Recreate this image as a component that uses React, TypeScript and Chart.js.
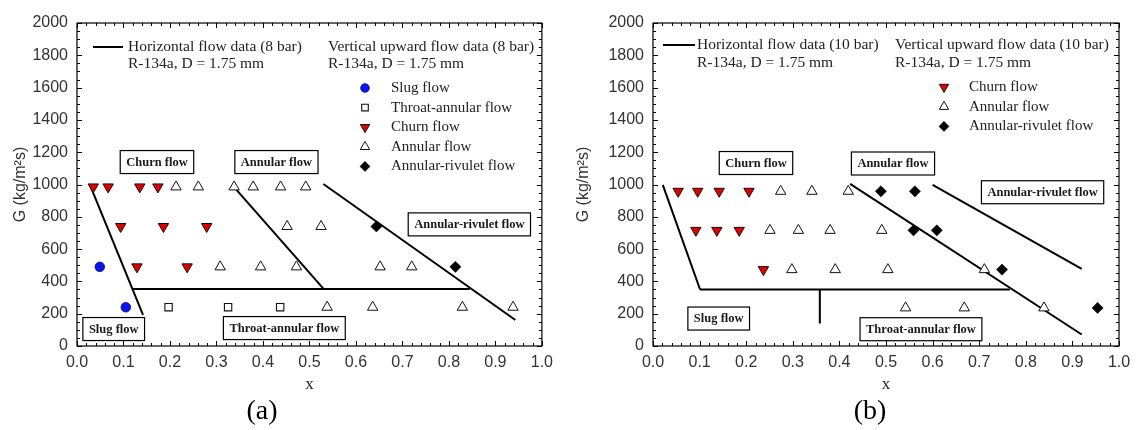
import React, { useEffect, useRef } from 'react';
import { Chart, registerables } from 'chart.js';
import { drawPoint } from 'chart.js/helpers';

Chart.register(...registerables);

// ---------------- Tick labels ----------------
const X_TICK_LABELS = ['0.0', '0.1', '0.2', '0.3', '0.4', '0.5', '0.6', '0.7', '0.8', '0.9', '1.0'];
const Y_TICK_LABELS = ['0', '200', '400', '600', '800', '1000', '1200', '1400', '1600', '1800', '2000'];

// ---------------- Panel (a): 8 bar ----------------
const A_SLUG_X = [0.049, 0.105];
const A_SLUG_G = [490, 240];
const A_THROAT_X = [0.197, 0.325, 0.437];
const A_THROAT_G = [240, 240, 240];
const A_CHURN_X = [0.035, 0.067, 0.135, 0.174, 0.094, 0.186, 0.279, 0.129, 0.237];
const A_CHURN_G = [985, 985, 985, 985, 740, 740, 740, 490, 490];
const A_ANNULAR_X = [0.213, 0.261, 0.338, 0.379, 0.438, 0.492, 0.452, 0.525, 0.308, 0.395, 0.472, 0.652, 0.72, 0.538, 0.636, 0.829, 0.938];
const A_ANNULAR_G = [985, 985, 985, 985, 985, 985, 740, 740, 490, 490, 490, 490, 490, 240, 240, 240, 240];
const A_RIVULET_X = [0.644, 0.814];
const A_RIVULET_G = [740, 490];
// horizontal flow pattern boundaries (8 bar)
const A_LINE1_X = [0.028, 0.142];
const A_LINE1_G = [996, 192];
const A_LINE2_X = [0.119, 0.845];
const A_LINE2_G = [353, 353];
const A_LINE3_X = [0.336, 0.53];
const A_LINE3_G = [990, 355];
const A_LINE4_X = [0.53, 0.943];
const A_LINE4_G = [1003, 161];
const A_REGION_TEXT = ['Churn flow', 'Annular flow', 'Annular-rivulet flow', 'Slug flow', 'Throat-annular flow'];
const A_REGION_X = [0.172, 0.429, 0.844, 0.079, 0.446];
const A_REGION_G = [1139, 1139, 753, 105, 111];

// ---------------- Panel (b): 10 bar ----------------
const B_CHURN_X = [0.054, 0.096, 0.142, 0.206, 0.092, 0.137, 0.185, 0.237];
const B_CHURN_G = [958, 958, 958, 958, 716, 716, 716, 473];
const B_ANNULAR_X = [0.274, 0.341, 0.419, 0.251, 0.312, 0.38, 0.491, 0.298, 0.391, 0.504, 0.711, 0.542, 0.668, 0.839];
const B_ANNULAR_G = [958, 958, 958, 716, 716, 716, 716, 473, 473, 473, 473, 236, 236, 236];
const B_RIVULET_X = [0.489, 0.562, 0.559, 0.609, 0.749, 0.954];
const B_RIVULET_G = [958, 958, 716, 716, 473, 236];
// horizontal flow pattern boundaries (10 bar)
const B_LINE1_X = [0.021, 0.101];
const B_LINE1_G = [998, 350];
const B_LINE2_X = [0.101, 0.766];
const B_LINE2_G = [350, 350];
const B_LINE3_X = [0.358, 0.358];
const B_LINE3_G = [350, 139];
const B_LINE4_X = [0.423, 0.92];
const B_LINE4_G = [1004, 71];
const B_LINE5_X = [0.6, 0.92];
const B_LINE5_G = [998, 477];
const B_REGION_TEXT = ['Churn flow', 'Annular flow', 'Annular-rivulet flow', 'Slug flow', 'Throat-annular flow'];
const B_REGION_X = [0.221, 0.515, 0.836, 0.141, 0.575];
const B_REGION_G = [1133, 1130, 952, 170, 104];

// ---------------- Styles ----------------
const SERIF = '"Liberation Serif", "Times New Roman", Times, serif';
const SANS = '"Liberation Sans", Arial, Helvetica, sans-serif';

type MarkerStyle = {
  pointStyle: any;
  rotation: number;
  radius: number;
  backgroundColor: string;
  borderColor: string;
  borderWidth: number;
};

const STYLE_SLUG: MarkerStyle = { pointStyle: 'circle', rotation: 0, radius: 4.8, backgroundColor: '#0a14f0', borderColor: '#00107a', borderWidth: 0.8 };
const STYLE_THROAT: MarkerStyle = { pointStyle: 'rect', rotation: 0, radius: 5.2, backgroundColor: '#ffffff', borderColor: '#111111', borderWidth: 1.1 };
const STYLE_CHURN: MarkerStyle = { pointStyle: 'triangle', rotation: 180, radius: 6, backgroundColor: '#e00000', borderColor: '#111111', borderWidth: 1 };
const STYLE_ANNULAR: MarkerStyle = { pointStyle: 'triangle', rotation: 0, radius: 6, backgroundColor: '#ffffff', borderColor: '#111111', borderWidth: 1 };
const STYLE_RIVULET: MarkerStyle = { pointStyle: 'rectRot', rotation: 0, radius: 5.6, backgroundColor: '#000000', borderColor: '#000000', borderWidth: 0.5 };

const toPts = (xs: number[], gs: number[]) => xs.map((x, i) => ({ x, y: gs[i] }));

const markerDataset = (label: string, xs: number[], gs: number[], s: MarkerStyle) => ({
  label,
  data: toPts(xs, gs),
  showLine: false,
  pointStyle: s.pointStyle,
  rotation: s.rotation,
  pointRadius: s.radius,
  pointHoverRadius: s.radius,
  pointBackgroundColor: s.backgroundColor,
  pointBorderColor: s.borderColor,
  pointBorderWidth: s.borderWidth,
  backgroundColor: s.backgroundColor,
  borderColor: s.borderColor,
});

const lineDataset = (label: string, xs: number[], gs: number[]) => ({
  label,
  data: toPts(xs, gs),
  showLine: true,
  borderColor: '#000000',
  borderWidth: 2,
  pointRadius: 0,
  pointHoverRadius: 0,
  fill: false,
});

type PanelCfg = {
  key: string;
  yAxisWidth: number;
  padRight: number;
  yTitlePad: number;
  datasets: any[];
  regionText: string[];
  regionX: number[];
  regionG: number[];
  legend: {
    lineX0: number; lineX1: number; lineY: number; textX: number;
    horizText: string; vertText: string; vertX: number; row2Y: number;
    entryMarkerX: number; entryTextX: number; entryY0: number; entryStep: number;
    entries: { label: string; style: MarkerStyle }[];
  };
};

function makePlugin(cfg: PanelCfg) {
  return {
    id: 'framePlugin' + cfg.key,
    beforeDatasetsDraw(chart: any) {
      const { ctx, chartArea } = chart;
      const { left, right, top, bottom } = chartArea;
      const xs = chart.scales.x;
      const ys = chart.scales.y;
      ctx.save();
      ctx.strokeStyle = '#000';
      ctx.lineWidth = 1.2;
      ctx.strokeRect(left, top, right - left, bottom - top);
      ctx.lineWidth = 1;
      ctx.beginPath();
      for (let i = 0; i <= 50; i++) {
        const px = Math.round(xs.getPixelForValue(i / 50)) + 0.5;
        const len = i % 5 === 0 ? 5 : 3;
        ctx.moveTo(px, bottom);
        ctx.lineTo(px, bottom - len);
        ctx.moveTo(px, top);
        ctx.lineTo(px, top + len);
      }
      for (let i = 0; i <= 40; i++) {
        const py = Math.round(ys.getPixelForValue(i * 50)) + 0.5;
        const len = i % 4 === 0 ? 5 : 3;
        ctx.moveTo(left, py);
        ctx.lineTo(left + len, py);
        ctx.moveTo(right, py);
        ctx.lineTo(right - len, py);
      }
      ctx.stroke();
      ctx.restore();
    },
    afterDatasetsDraw(chart: any) {
      const { ctx, chartArea } = chart;
      const { left, top } = chartArea;
      const xs = chart.scales.x;
      const ys = chart.scales.y;
      ctx.save();
      // region boxes
      ctx.font = 'bold 12.5px ' + SERIF;
      ctx.textAlign = 'center';
      ctx.textBaseline = 'middle';
      cfg.regionText.forEach((t, i) => {
        const cx = xs.getPixelForValue(cfg.regionX[i]);
        const cy = ys.getPixelForValue(cfg.regionG[i]);
        const w = ctx.measureText(t).width + 12;
        const h = 23;
        ctx.fillStyle = '#fff';
        ctx.fillRect(cx - w / 2, cy - h / 2, w, h);
        ctx.strokeStyle = '#000';
        ctx.lineWidth = 1.2;
        ctx.strokeRect(cx - w / 2, cy - h / 2, w, h);
        ctx.fillStyle = '#1a1a1a';
        ctx.fillText(t, cx, cy + 0.5);
      });
      // legend texts
      const L = cfg.legend;
      ctx.strokeStyle = '#000';
      ctx.lineWidth = 2;
      ctx.beginPath();
      ctx.moveTo(left + L.lineX0, top + L.lineY);
      ctx.lineTo(left + L.lineX1, top + L.lineY);
      ctx.stroke();
      ctx.fillStyle = '#222';
      ctx.textAlign = 'left';
      ctx.textBaseline = 'middle';
      ctx.font = '15.5px ' + SERIF;
      ctx.fillText(L.horizText, left + L.textX, top + L.lineY);
      ctx.fillText('R-134a, D = 1.75 mm', left + L.textX, top + L.row2Y);
      ctx.fillText(L.vertText, left + L.vertX, top + L.lineY);
      ctx.fillText('R-134a, D = 1.75 mm', left + L.vertX, top + L.row2Y);
      ctx.font = '15px ' + SERIF;
      L.entries.forEach((e, i) => {
        const yy = top + L.entryY0 + i * L.entryStep;
        const s = e.style;
        ctx.fillStyle = s.backgroundColor;
        ctx.strokeStyle = s.borderColor;
        ctx.lineWidth = s.borderWidth;
        drawPoint(ctx, { pointStyle: s.pointStyle, rotation: s.rotation, radius: s.radius * 0.9, borderWidth: s.borderWidth }, left + L.entryMarkerX, yy);
        ctx.fillStyle = '#222';
        ctx.fillText(e.label, left + L.entryTextX, yy);
      });
      ctx.restore();
    },
  };
}

function createPanel(canvas: HTMLCanvasElement, cfg: PanelCfg) {
  return new Chart(canvas, {
    type: 'scatter',
    data: { datasets: cfg.datasets },
    plugins: [makePlugin(cfg)],
    options: {
      responsive: false,
      animation: false,
      devicePixelRatio: 1,
      layout: { padding: { top: 23, right: cfg.padRight, left: 0, bottom: 0 } },
      plugins: { legend: { display: false }, tooltip: { enabled: false } },
      scales: {
        x: {
          type: 'linear',
          min: 0,
          max: 1,
          grid: { display: false, drawTicks: false },
          border: { display: false },
          ticks: {
            stepSize: 0.1,
            padding: 7,
            color: '#333',
            font: { family: SANS, size: 16 },
            callback: (v: any) => X_TICK_LABELS[Math.round(Number(v) * 10)] ?? '',
          },
          title: { display: true, text: 'x', color: '#222', font: { family: SERIF, size: 17 }, padding: { top: 0, bottom: 0 } },
          afterFit: (s: any) => { s.height = 49; },
        },
        y: {
          type: 'linear',
          min: 0,
          max: 2000,
          grid: { display: false, drawTicks: false },
          border: { display: false },
          ticks: {
            stepSize: 200,
            padding: 9,
            color: '#333',
            font: { family: SANS, size: 16 },
            callback: (v: any) => Y_TICK_LABELS[Math.round(Number(v) / 200)] ?? '',
          },
          title: { display: true, text: 'G (kg/m²s)', color: '#333', font: { family: SANS, size: 16 }, padding: { top: cfg.yTitlePad, bottom: 0 } },
          afterFit: (s: any) => { s.width = cfg.yAxisWidth; },
        },
      },
    } as any,
  });
}

const PANEL_A: PanelCfg = {
  key: 'a',
  yAxisWidth: 77,
  padRight: 16,
  yTitlePad: 11,
  datasets: [
    markerDataset('Slug flow', A_SLUG_X, A_SLUG_G, STYLE_SLUG),
    markerDataset('Throat-annular flow', A_THROAT_X, A_THROAT_G, STYLE_THROAT),
    markerDataset('Churn flow', A_CHURN_X, A_CHURN_G, STYLE_CHURN),
    markerDataset('Annular flow', A_ANNULAR_X, A_ANNULAR_G, STYLE_ANNULAR),
    markerDataset('Annular-rivulet flow', A_RIVULET_X, A_RIVULET_G, STYLE_RIVULET),
    lineDataset('b1', A_LINE1_X, A_LINE1_G),
    lineDataset('b2', A_LINE2_X, A_LINE2_G),
    lineDataset('b3', A_LINE3_X, A_LINE3_G),
    lineDataset('b4', A_LINE4_X, A_LINE4_G),
  ],
  regionText: A_REGION_TEXT,
  regionX: A_REGION_X,
  regionG: A_REGION_G,
  legend: {
    lineX0: 16, lineX1: 46, lineY: 24, textX: 51,
    horizText: 'Horizontal flow data (8 bar)',
    vertText: 'Vertical upward flow data (8 bar)',
    vertX: 251, row2Y: 41,
    entryMarkerX: 288, entryTextX: 314, entryY0: 65, entryStep: 19.6,
    entries: [
      { label: 'Slug flow', style: STYLE_SLUG },
      { label: 'Throat-annular flow', style: STYLE_THROAT },
      { label: 'Churn flow', style: STYLE_CHURN },
      { label: 'Annular flow', style: STYLE_ANNULAR },
      { label: 'Annular-rivulet flow', style: STYLE_RIVULET },
    ],
  },
};

const PANEL_B: PanelCfg = {
  key: 'b',
  yAxisWidth: 83,
  padRight: 21,
  yTitlePad: 4,
  datasets: [
    markerDataset('Churn flow', B_CHURN_X, B_CHURN_G, STYLE_CHURN),
    markerDataset('Annular flow', B_ANNULAR_X, B_ANNULAR_G, STYLE_ANNULAR),
    markerDataset('Annular-rivulet flow', B_RIVULET_X, B_RIVULET_G, STYLE_RIVULET),
    lineDataset('b1', B_LINE1_X, B_LINE1_G),
    lineDataset('b2', B_LINE2_X, B_LINE2_G),
    lineDataset('b3', B_LINE3_X, B_LINE3_G),
    lineDataset('b4', B_LINE4_X, B_LINE4_G),
    lineDataset('b5', B_LINE5_X, B_LINE5_G),
  ],
  regionText: B_REGION_TEXT,
  regionX: B_REGION_X,
  regionG: B_REGION_G,
  legend: {
    lineX0: 10, lineX1: 42, lineY: 22, textX: 44,
    horizText: 'Horizontal flow data (10 bar)',
    vertText: 'Vertical upward flow data (10 bar)',
    vertX: 242, row2Y: 40,
    entryMarkerX: 291, entryTextX: 316, entryY0: 64, entryStep: 19.7,
    entries: [
      { label: 'Churn flow', style: STYLE_CHURN },
      { label: 'Annular flow', style: STYLE_ANNULAR },
      { label: 'Annular-rivulet flow', style: STYLE_RIVULET },
    ],
  },
};

export default function App() {
  const refA = useRef<HTMLCanvasElement | null>(null);
  const refB = useRef<HTMLCanvasElement | null>(null);

  useEffect(() => {
    const ca = refA.current ? createPanel(refA.current, PANEL_A) : null;
    const cb = refB.current ? createPanel(refB.current, PANEL_B) : null;
    return () => {
      ca?.destroy();
      cb?.destroy();
    };
  }, []);

  const caption: React.CSSProperties = {
    position: 'absolute',
    top: 393,
    width: 80,
    textAlign: 'center',
    fontFamily: SERIF,
    fontSize: 28,
    lineHeight: '34px',
    color: '#000',
  };

  return (
    <div style={{ position: 'absolute', left: 0, top: 0, width: 1140, height: 430, background: '#fff', overflow: 'hidden' }}>
      <canvas ref={refA} width={560} height={395} style={{ position: 'absolute', left: 0, top: 0, width: 560, height: 395 }} />
      <canvas ref={refB} width={570} height={395} style={{ position: 'absolute', left: 570, top: 0, width: 570, height: 395 }} />
      <div style={{ ...caption, left: 262 - 40 }}>(a)</div>
      <div style={{ ...caption, left: 870 - 40 }}>(b)</div>
    </div>
  );
}
